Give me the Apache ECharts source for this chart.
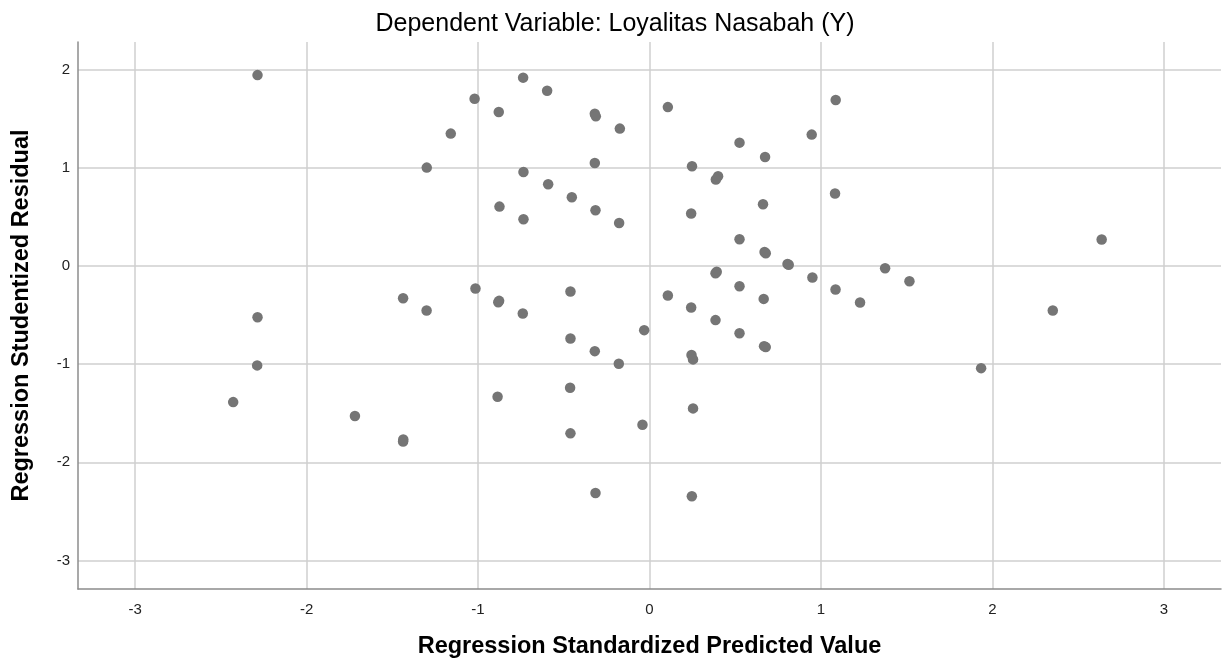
<!DOCTYPE html>
<html>
<head>
<meta charset="utf-8">
<script src="https://cdn.jsdelivr.net/npm/echarts@6/dist/echarts.min.js"></script>
<style>
html,body{margin:0;padding:0;background:#fff;}
#chart{width:1227px;height:663px;}
</style>
</head>
<body>
<div id="chart"></div>
<script>
const chartTitle = 'Dependent Variable: Loyalitas Nasabah (Y)';
const xAxisTitle = 'Regression Standardized Predicted Value';
const yAxisTitle = 'Regression Studentized Residual';
const xTicks = [-3, -2, -1, 0, 1, 2, 3];
const yTicks = [-3, -2, -1, 0, 1, 2];

// Regression Standardized Predicted Value
const predicted = [
  -2.286, -1.020, -0.737, -0.597, -0.879, -0.319, -0.313, -0.173, 0.107, 1.086,
  -1.159, -1.299, 0.525, 0.674, 0.946, -0.319, -0.735, -0.591, 0.248, 0.400,
  0.387, 1.082, -0.453, -0.875, -0.315, -0.735, -0.177, 0.243, 0.662, 0.525,
  0.671, 0.678, 0.805, 0.812, 0.950, 1.085, 1.228, 1.374, 1.516, 2.637,
  2.352, 1.934, -1.015, -1.437, -1.300, -0.877, -0.882, -0.739, -0.461, 0.107,
  0.243, 0.385, 0.525, 0.666, 0.385, 0.392, -0.031, -0.461, -0.319, -0.179,
  0.245, 0.254, 0.525, 0.668, 0.678, -2.286, -2.288, -2.428, -1.718, -1.437,
  -1.436, -0.886, -0.463, 0.254, -0.461, -0.041, -0.315, 0.247
];
// Regression Studentized Residual
const residual = [
  1.943, 1.703, 1.917, 1.784, 1.567, 1.550, 1.523, 1.398, 1.617, 1.689,
  1.347, 1.001, 1.255, 1.109, 1.337, 1.048, 0.956, 0.831, 1.014, 0.913,
  0.879, 0.737, 0.699, 0.604, 0.567, 0.475, 0.437, 0.533, 0.628, 0.272,
  0.142, 0.129, 0.020, 0.012, -0.118, -0.240, -0.372, -0.023, -0.156, 0.269,
  -0.454, -1.041, -0.230, -0.329, -0.454, -0.356, -0.370, -0.484, -0.260, -0.301,
  -0.423, -0.552, -0.207, -0.336, -0.074, -0.059, -0.654, -0.739, -0.868, -0.997,
  -0.908, -0.952, -0.685, -0.817, -0.827, -0.522, -1.013, -1.387, -1.529, -1.788,
  -1.768, -1.333, -1.241, -1.451, -1.705, -1.617, -2.312, -2.346
];

const points = predicted.map((x, i) => [x, residual[i]]);
const font = '"Liberation Sans", Arial, sans-serif';

const chart = echarts.init(document.getElementById('chart'), null, {renderer: 'canvas', width: 1227, height: 663});
chart.setOption({
  animation: false,
  backgroundColor: '#ffffff',
  title: {
    text: chartTitle,
    left: 610,
    textAlign: 'center',
    top: 7,
    textStyle: {fontFamily: font, fontSize: 25, fontWeight: 'normal', color: '#000'}
  },
  grid: {left: 78, right: 6, top: 42, bottom: 74, containLabel: false, outerBoundsMode: 'none'},
  xAxis: {
    type: 'value',
    min: -3.333,
    max: 3.333,
    name: xAxisTitle,
    nameLocation: 'middle',
    nameGap: 46,
    nameTextStyle: {fontFamily: font, fontSize: 23.5, fontWeight: 'bold', color: '#000'},
    axisLine: {show: true, onZero: false, lineStyle: {color: '#8c8c8c', width: 1.5}},
    axisTick: {show: false, customValues: xTicks},
    axisLabel: {customValues: xTicks, fontFamily: font, fontSize: 15, color: '#222', margin: 13},
    splitLine: {show: true, lineStyle: {color: '#cfcfcf', width: 1.5}}
  },
  yAxis: {
    type: 'value',
    min: -3.29,
    max: 2.28,
    name: yAxisTitle,
    nameLocation: 'middle',
    nameGap: 44,
    nameTextStyle: {fontFamily: font, fontSize: 23.5, fontWeight: 'bold', color: '#000'},
    axisLine: {show: true, onZero: false, lineStyle: {color: '#8c8c8c', width: 1.5}},
    axisTick: {show: false, customValues: yTicks},
    axisLabel: {customValues: yTicks, fontFamily: font, fontSize: 15, color: '#222', margin: 8},
    splitLine: {show: true, lineStyle: {color: '#cfcfcf', width: 1.5}}
  },
  series: [{
    type: 'scatter',
    data: points,
    symbol: 'circle',
    symbolSize: 10.5,
    itemStyle: {color: '#757575', opacity: 1},
    z: 5
  }]
});
</script>
</body>
</html>
